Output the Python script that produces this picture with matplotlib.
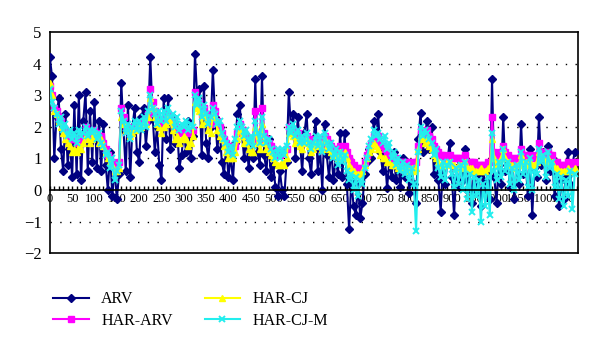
import numpy as np
import matplotlib
matplotlib.use("Agg")
import matplotlib.pyplot as plt

# observation index, sampled every 5 steps
step = 5

arv = [
    4.2, 3.6, 1.0, 2.3, 2.9, 1.3, 0.6, 2.4, 0.8, 1.6, 0.4, 2.7, 0.5, 3.0, 0.3, 2.2, 3.1, 0.6, 2.5, 0.9,
    2.8, 0.7, 2.2, 0.6, 2.1, 0.8, 0.0, 1.2, -0.2, 0.7, -0.3, 0.5, 3.4, 1.9, 0.6, 2.7, 0.4, 2.0, 2.6, 1.2,
    0.9, 2.3, 2.6, 1.4, 2.2, 4.2, 2.4, 1.2, 2.0, 0.8, 0.3, 2.9, 1.6, 2.9, 1.3, 2.3, 1.5, 2.0, 0.7, 1.1,
    1.9, 1.2, 2.2, 1.0, 1.7, 4.3, 2.9, 3.2, 1.1, 3.3, 1.5, 1.0, 2.0, 3.8, 2.3, 1.3, 2.0, 0.9, 0.5, 1.4,
    0.4, 1.1, 0.3, 1.5, 2.4, 2.7, 1.8, 1.0, 1.7, 0.7, 1.5, 1.0, 3.5, 1.2, 0.8, 3.6, 1.1, 0.6, 1.6, 0.4,
    0.8, 0.1, -0.2, 0.6, 0.0, -0.2, 0.9, 3.1, 1.9, 2.4, 1.0, 2.3, 1.5, 0.6, 1.8, 2.4, 1.0, 0.5, 1.6, 2.2,
    0.6, 1.3, 0.0, 2.1, 1.1, 0.4, 1.3, 0.3, 1.0, 0.5, 1.8, 0.4, 1.8, 0.2, -1.25, 0.3, -0.5, -0.8, 0.2, -0.9,
    -0.4, 0.5, 0.9, 1.3, 1.0, 2.2, 1.5, 2.4, 1.2, 0.6, 1.1, 0.05, 0.9, 0.4, 1.2, 0.3, 0.8, 0.1, 1.0, 0.4,
    0.9, -0.1, 0.7, 0.2, -0.4, 1.6, 2.45, 1.2, 1.8, 2.2, 1.3, 2.0, 0.5, 1.2, 0.3, -0.7, 0.8, 0.2, 0.9, 1.5,
    0.4, -0.8, 0.7, 0.1, 0.9, 0.3, 1.3, 0.0, 0.6, -0.4, 0.8, -0.1, 0.5, -0.5, 0.7, 0.0, 0.6, -0.3, 3.5, 0.4,
    -0.4, 0.8, 0.2, 2.3, 0.6, 1.0, 0.1, 0.8, -0.3, 0.9, 0.2, 2.1, 0.5, 1.0, -0.2, 1.3, -0.8, 0.7, 0.4, 2.3,
    0.8, 1.2, 0.3, 1.4, 0.6, 1.0, -0.2, 0.5, -0.5, 0.3, -0.3, 0.4, 1.2, 0.2, 0.8, 1.2,
]

har_arv = [
    3.3, 3.0, 2.6, 2.5, 2.3, 2.2, 2.0, 1.9, 1.8, 1.7, 1.6, 1.6, 1.5, 1.6, 1.5, 1.7, 2.0, 1.8, 1.7, 1.8,
    1.9, 1.8, 1.7, 1.7, 1.5, 1.3, 1.1, 1.0, 0.9, 0.8, 0.8, 0.9, 2.6, 2.3, 2.0, 2.0, 1.8, 1.9, 2.0, 2.1,
    2.0, 2.1, 2.2, 2.2, 2.4, 3.2, 2.8, 2.5, 2.3, 2.2, 2.0, 2.2, 2.3, 2.4, 2.3, 2.2, 2.1, 2.0, 1.8, 1.8,
    1.9, 1.9, 1.8, 1.8, 1.9, 3.1, 2.8, 2.8, 2.4, 2.6, 2.4, 2.2, 2.1, 2.7, 2.5, 2.2, 2.0, 1.8, 1.6, 1.5,
    1.4, 1.3, 1.2, 1.4, 1.8, 2.1, 1.9, 1.8, 1.7, 1.6, 1.6, 1.6, 2.5, 1.8, 1.6, 2.6, 1.8, 1.6, 1.5, 1.4,
    1.3, 1.2, 1.2, 1.1, 1.2, 1.2, 1.3, 2.0, 1.9, 1.9, 1.7, 1.8, 1.6, 1.5, 1.6, 1.7, 1.6, 1.4, 1.4, 1.6,
    1.5, 1.6, 1.4, 1.7, 1.6, 1.5, 1.4, 1.3, 1.3, 1.2, 1.4, 1.3, 1.4, 1.2, 1.0, 0.9, 0.8, 0.7, 0.7, 0.6,
    0.7, 0.9, 1.1, 1.3, 1.5, 1.7, 1.6, 1.7, 1.5, 1.4, 1.3, 1.2, 1.1, 1.1, 1.0, 1.0, 0.9, 0.9, 0.9, 0.9,
    0.9, 0.8, 0.9, 0.8, 0.9, 1.4, 1.9, 1.8, 1.8, 1.9, 1.7, 1.6, 1.4, 1.3, 1.2, 1.1, 1.1, 1.0, 1.0, 1.1,
    1.0, 1.0, 1.0, 1.0, 1.0, 0.9, 1.1, 0.9, 0.9, 0.9, 0.9, 0.8, 0.8, 0.8, 0.8, 0.8, 0.9, 0.9, 2.3, 1.2,
    1.0, 1.1, 1.2, 1.4, 1.2, 1.1, 1.0, 1.0, 0.9, 1.0, 1.0, 1.3, 1.1, 1.1, 1.0, 1.1, 1.0, 1.0, 1.1, 1.5,
    1.2, 1.2, 1.1, 1.2, 1.1, 1.1, 0.9, 0.9, 0.8, 0.8, 0.8, 0.8, 0.9, 0.8, 0.8, 0.9,
]

har_cj = [
    3.4, 3.0, 2.5, 2.4, 2.2, 2.0, 1.8, 1.6, 1.5, 1.4, 1.2, 1.3, 1.2, 1.4, 1.3, 1.5, 1.7, 1.6, 1.5, 1.6,
    1.8, 1.7, 1.5, 1.6, 1.4, 1.2, 1.0, 0.9, 0.8, 0.6, 0.6, 0.7, 2.3, 2.1, 1.9, 1.9, 1.7, 1.8, 1.9, 2.0,
    2.0, 2.0, 2.1, 2.1, 2.3, 2.9, 2.6, 2.3, 2.1, 2.0, 1.8, 2.0, 2.1, 2.3, 2.2, 1.9, 1.6, 1.7, 1.5, 1.6,
    1.7, 1.6, 1.4, 1.5, 1.7, 2.8, 2.6, 2.5, 2.1, 2.4, 2.2, 1.9, 1.8, 2.4, 2.3, 1.9, 1.7, 1.6, 1.4, 1.2,
    1.0, 1.0, 1.0, 1.2, 1.6, 1.9, 1.7, 1.5, 1.5, 1.3, 1.2, 1.2, 2.0, 1.5, 1.3, 2.1, 1.5, 1.3, 1.2, 1.1,
    1.0, 0.9, 0.8, 0.8, 0.9, 0.8, 1.0, 1.8, 1.8, 1.7, 1.5, 1.6, 1.4, 1.3, 1.5, 1.6, 1.4, 1.2, 1.3, 1.5,
    1.4, 1.5, 1.3, 1.6, 1.4, 1.3, 1.2, 1.1, 1.1, 1.0, 1.2, 1.1, 1.2, 1.0, 0.8, 0.7, 0.6, 0.5, 0.5, 0.5,
    0.6, 0.8, 1.0, 1.2, 1.3, 1.5, 1.4, 1.3, 1.1, 1.0, 1.0, 0.9, 0.9, 0.8, 0.8, 0.8, 0.7, 0.7, 0.7, 0.7,
    0.7, 0.6, 0.7, 0.6, 0.7, 1.3, 1.7, 1.6, 1.5, 1.6, 1.4, 1.3, 1.1, 1.0, 0.9, 0.8, 0.8, 0.8, 0.9, 0.9,
    0.8, 0.8, 0.7, 0.8, 0.8, 0.7, 0.9, 0.7, 0.7, 0.7, 0.6, 0.6, 0.6, 0.7, 0.6, 0.6, 0.7, 0.7, 1.6, 1.0,
    0.8, 0.9, 1.0, 1.3, 1.0, 0.9, 0.8, 0.8, 0.7, 0.8, 0.8, 1.1, 0.9, 0.9, 0.8, 0.9, 0.8, 0.8, 0.9, 1.2,
    1.0, 1.0, 0.9, 1.0, 0.9, 0.9, 0.7, 0.7, 0.6, 0.6, 0.6, 0.6, 0.7, 0.6, 0.6, 0.7,
]

har_cj_m = [
    3.2, 2.8, 2.6, 2.4, 2.1, 2.3, 1.9, 2.1, 1.7, 1.9, 1.6, 1.8, 1.5, 1.9, 1.7, 1.8, 2.0, 1.7, 1.9, 1.8,
    1.9, 1.6, 1.8, 1.5, 1.4, 1.1, 1.2, 0.7, 1.0, 0.3, 0.6, 0.8, 2.5, 2.2, 1.8, 2.1, 1.6, 2.0, 2.2, 1.9,
    2.2, 1.9, 2.3, 2.0, 2.5, 3.0, 2.6, 2.4, 2.1, 2.5, 2.2, 2.5, 2.2, 2.6, 2.3, 2.4, 2.0, 2.3, 1.9, 2.1,
    2.0, 2.2, 1.9, 2.1, 2.0, 3.0, 2.7, 2.9, 2.3, 2.7, 2.4, 2.1, 2.3, 2.6, 2.4, 2.1, 2.2, 1.8, 1.6, 1.5,
    1.2, 1.4, 1.1, 1.6, 2.0, 2.2, 2.0, 1.7, 1.9, 1.5, 1.7, 1.4, 2.2, 1.8, 1.5, 2.3, 1.7, 1.5, 1.6, 1.3,
    1.2, 1.0, 1.3, 1.0, 1.3, 1.1, 1.4, 2.0, 1.8, 2.1, 1.7, 1.9, 1.5, 1.7, 1.5, 1.8, 1.5, 1.3, 1.5, 1.7,
    1.4, 1.7, 1.2, 1.8, 1.5, 1.3, 1.5, 1.0, 1.3, 0.8, 1.2, 0.9, 1.1, 0.6, 0.3, 0.5, 0.0, 0.4, -0.2, 0.3,
    0.2, 0.7, 1.0, 1.4, 1.6, 1.9, 1.7, 1.8, 1.6, 1.5, 1.7, 1.3, 1.5, 1.0, 1.2, 0.8, 1.0, 0.6, 0.9, 0.5,
    0.8, 0.3, 0.7, 0.2, -1.3, 1.2, 2.0, 1.7, 1.9, 1.8, 1.6, 1.5, 1.1, 1.3, 0.7, 0.4, 0.9, 0.3, 0.8, 0.9,
    0.5, 0.1, 0.7, 0.2, 0.8, 0.0, 0.9, -0.3, 0.5, -0.7, 0.4, -0.2, 0.3, -1.0, 0.2, -0.5, 0.4, -0.8, 1.8, 0.6,
    0.3, 0.9, 0.4, 1.3, 0.6, 0.9, 0.2, 0.7, 0.0, 0.8, 0.3, 1.2, 0.5, 0.9, 0.1, 1.0, 0.0, 0.6, 0.5, 1.3,
    0.9, 1.1, 0.4, 1.2, 0.7, 0.9, 0.1, 0.5, -0.3, 0.4, -0.5, 0.3, -0.2, 0.6, -0.6, 0.5,
]

x = np.arange(len(arv)) * step
xtick_vals = list(range(0, 1151, 50))
ytick_vals = [-2, -1, 0, 1, 2, 3, 4, 5]

plt.rcParams["font.family"] = ["Liberation Serif", "DejaVu Serif"]

fig = plt.figure(figsize=(6.0, 3.53), dpi=100)
ax = fig.add_axes([0.083, 0.283, 0.88, 0.626])

ax.plot(x, arv, color="#000080", lw=1.5, marker="D", ms=4, label="ARV", zorder=3)
ax.plot(x, har_arv, color="#ff00ff", lw=1.5, marker="s", ms=4.5, label="HAR-ARV", zorder=4)
ax.plot(x, har_cj, color="#ffff00", lw=1.5, marker="^", ms=5, label="HAR-CJ", zorder=5)
ax.plot(x, har_cj_m, color="#22eeee", lw=1.5, marker="x", ms=5, mew=1.4, label="HAR-CJ-M", zorder=6)

ax.set_xlim(0, 1182)
ax.set_ylim(-2, 5)

# dotted horizontal gridlines
for v in [-1, 1, 2, 3, 4]:
    ax.axhline(v, color="black", ls=(0, (1, 6)), lw=1.0, zorder=1)

# x axis drawn through zero, frame kept round the plot
ax.spines["bottom"].set_position(("data", 0))
ax.spines["bottom"].set_linewidth(1.2)
ax.spines["bottom"].set_zorder(7)
ax.plot([0, 1], [0, 0], transform=ax.transAxes, color="black", lw=1.2, clip_on=False)
for s in ["top", "right", "left"]:
    ax.spines[s].set_linewidth(1.2)

ax.set_xticks(xtick_vals)
ax.set_xticklabels([str(t) for t in xtick_vals], fontsize=9)
ax.set_xticks(range(0, 1181, 10), minor=True)
ax.tick_params(axis="x", which="both", direction="in", length=3, width=1, pad=2)
ax.tick_params(axis="x", which="minor", length=3)

ax.set_yticks(ytick_vals)
ax.set_yticklabels([str(t).replace("-", "\u2212") for t in ytick_vals], fontsize=12)
ax.tick_params(axis="y", length=0, pad=6)

fig.legend(loc="upper left", bbox_to_anchor=(0.065, 0.215), ncol=2, frameon=False,
           fontsize=11.5, handlelength=2.2, columnspacing=2.0, labelspacing=0.35,
           handletextpad=0.8)

fig.savefig("out.png", dpi=100)
